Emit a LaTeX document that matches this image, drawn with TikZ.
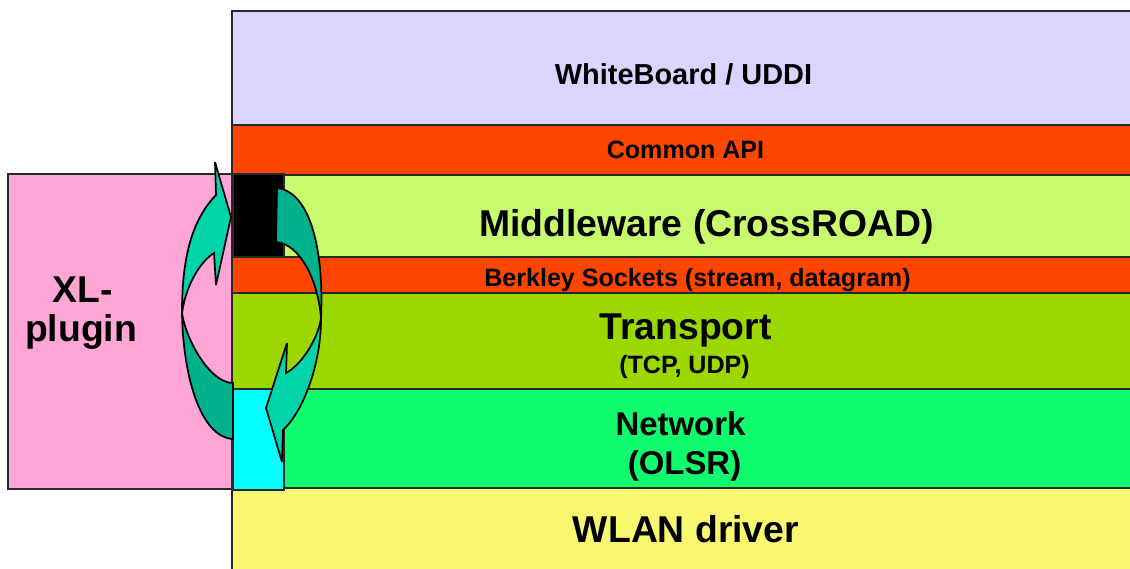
\documentclass[tikz,border=0pt]{standalone}
\usepackage{fontspec}
\setmainfont{Liberation Sans}
\definecolor{wbcol}{RGB}{217,213,255}
\definecolor{apicol}{RGB}{255,70,0}
\definecolor{mwcol}{RGB}{200,250,110}
\definecolor{trcol}{RGB}{154,216,0}
\definecolor{netcol}{RGB}{16,251,110}
\definecolor{wlancol}{RGB}{248,248,112}
\definecolor{pinkcol}{RGB}{255,166,214}
\definecolor{cyancol}{RGB}{0,255,255}
\definecolor{tealL}{RGB}{0,212,168}
\definecolor{tealD}{RGB}{0,178,140}
\definecolor{edge}{RGB}{40,40,40}
\tikzset{
  layerbox/.style={draw=edge, line width=1pt},
  arrowpart/.style={draw=black, line width=1.3pt, miter limit=4},
  lbl/.style={anchor=base, inner sep=0pt, font=\bfseries},
  big/.style={lbl, font=\bfseries\fontsize{28}{30}\selectfont},
  mid/.style={lbl, font=\bfseries\fontsize{24.7}{27}\selectfont},
  med/.style={lbl, font=\bfseries\fontsize{21.7}{24}\selectfont},
  small/.style={lbl, font=\bfseries\fontsize{18.8}{21}\selectfont}
}
\begin{document}
\begin{tikzpicture}[x=0.75pt, y=-0.75pt]
\useasboundingbox (0,0) rectangle (1130,568);
\clip (0,0) rectangle (1130,568);
% XL-plugin box
\draw[layerbox, fill=pinkcol] (8,174) rectangle (232,489);
% protocol layers
\draw[layerbox, fill=wbcol]   (232,11)  rectangle (1140,125);
\draw[layerbox, fill=apicol]  (232,125) rectangle (1140,175);
\draw[layerbox, fill=mwcol]   (232,175) rectangle (1140,257);
\draw[layerbox, fill=apicol]  (232,257) rectangle (1140,293);
\draw[layerbox, fill=trcol]   (232,293) rectangle (1140,389);
\draw[layerbox, fill=netcol]  (232,389) rectangle (1140,488);
\draw[layerbox, fill=wlancol] (232,488) rectangle (1140,580);
% black and cyan blocks
\draw[layerbox, fill=black]    (233,174) rectangle (284,257);
\draw[layerbox, fill=cyancol]  (233,389) rectangle (284,490);
% labels
\node[med]   (wb)   at (683.5,84)  {WhiteBoard / UDDI};
\node[small] (api)  at (685.5,158) {Common API};
\node[big]   (mw)   at (706.5,236) {Middleware (CrossROAD)};
\node[small] (bsd)  at (697.5,286) {Berkley Sockets (stream, datagram)};
\node[big]   (tr)   at (685.5,339) {Transport};
\node[small] (trs)  at (684.5,373) {(TCP, UDP)};
\node[mid]   (net)  at (680.5,435) {Network};
\node[mid]   (nets) at (684.5,474) {(OLSR)};
\node[big]   (wlan) at (686,542)   {WLAN driver};
\node[big]   (xl)   at (82.5,302)  {XL-};
\node[big]   (plug) at (81,341)    {plugin};
% left circular arrow: back part
\draw[arrowpart, fill=tealD] (182,313) .. controls (183,375) and (200,437) .. (233,439)
  -- (233,383) .. controls (210,383) and (186,340) .. cycle;
% left circular arrow: front part with head
\draw[arrowpart, fill=tealL] (215,162) -- (231,217) -- (216,285) -- (214,253)
  .. controls (200,262) and (186,285) .. (182,313)
  .. controls (182,262) and (190,222) .. (216,195) -- cycle;
% right circular arrow: back part
\draw[arrowpart, fill=tealD] (277,188) -- (276,242)
  .. controls (300,244) and (318,280) .. (321,318)
  .. controls (324,255) and (312,192) .. cycle;
% right circular arrow: front part with head
\draw[arrowpart, fill=tealL] (321,318) .. controls (321,370) and (300,415) .. (283,430)
  -- (282,462) -- (266,408) -- (287,343) -- (286,373)
  .. controls (300,366) and (318,340) .. cycle;
\end{tikzpicture}
\end{document}
